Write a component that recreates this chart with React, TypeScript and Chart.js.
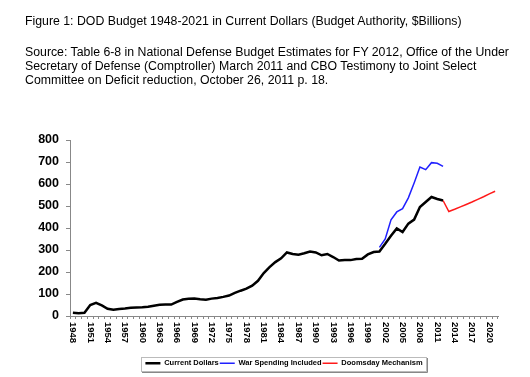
import React, { useEffect, useRef } from "react";
import { Chart, registerables } from "chart.js";

Chart.register(...registerables);

const years: string[] = [];
for (let y = 1948; y <= 2021; y++) years.push(String(y));

const yTicks = [0, 100, 200, 300, 400, 500, 600, 700, 800];

const currentDollars = [
  15, 13, 15, 50, 60, 48, 33, 28, 32, 34, 37, 39, 40, 42, 47, 51, 52, 52, 64, 75,
  78, 79, 76, 74, 79, 82, 87, 93, 105, 115, 124, 138, 160, 195, 222, 245, 262, 289,
  282, 279, 285, 293, 289, 276, 282, 268, 252, 255, 254, 259, 260, 280, 291, 293,
  328, 365, 398, 382, 420, 438, 495, 518, 541, 532, 525,
];
// 2001..2012
const warSpending = [312, 350, 437, 473, 488, 537, 605, 677, 665, 697, 694, 680];
// 2012..2021
const doomsday = [525, 475, 485, 496, 507, 518, 530, 542, 555, 567];

function pad(arr: number[], startYear: number): (number | null)[] {
  return years.map((y) => {
    const i = Number(y) - startYear;
    return i >= 0 && i < arr.length ? arr[i] : null;
  });
}

const FONT = "'Liberation Sans', Arial, sans-serif";

const xLabelPlugin = {
  id: "xLabels",
  afterDraw(chart: any) {
    const ctx = chart.ctx;
    const xs = chart.scales.x;
    ctx.save();
    ctx.font = `bold 9.5px ${FONT}`;
    ctx.fillStyle = "#000";
    ctx.textAlign = "left";
    ctx.textBaseline = "middle";
    years.forEach((lab, i) => {
      if ((Number(lab) - 1948) % 3 !== 0) return;
      const x = xs.getPixelForValue(i);
      ctx.save();
      ctx.translate(x, xs.top + 6);
      ctx.rotate(Math.PI / 2);
      ctx.fillText(lab, 0, 0);
      ctx.restore();
    });
    ctx.restore();
  },
};

const legendBoxPlugin = {
  id: "legendBox",
  afterDraw(chart: any) {
    const lg = chart.legend;
    if (!lg || !lg.legendHitBoxes || !lg.legendHitBoxes.length) return;
    let l = Infinity, t = Infinity, r = -Infinity, b = -Infinity;
    lg.legendHitBoxes.forEach((h: any) => {
      l = Math.min(l, h.left);
      t = Math.min(t, h.top);
      r = Math.max(r, h.left + h.width);
      b = Math.max(b, h.top + h.height);
    });
    const ctx = chart.ctx;
    ctx.save();
    ctx.strokeStyle = "#bbbbbb";
    ctx.lineWidth = 1;
    const L = Math.round(l - 4), T = Math.round(t - 3);
    const W = Math.round(r - l + 8), H = Math.round(b - t + 6);
    ctx.strokeRect(L + 0.5, T + 0.5, W, H);
    ctx.strokeStyle = "#888888";
    ctx.beginPath();
    ctx.moveTo(L + 1, T + H + 1.5);
    ctx.lineTo(L + W + 1.5, T + H + 1.5);
    ctx.lineTo(L + W + 1.5, T + 1);
    ctx.stroke();
    ctx.restore();
  },
};

export default function App() {
  const ref = useRef<HTMLCanvasElement | null>(null);

  useEffect(() => {
    document.body.style.margin = "0";
    const canvas = ref.current;
    if (!canvas) return;
    const chart = new Chart(canvas, {
      type: "line",
      data: {
        labels: years,
        datasets: [
          {
            label: "Current Dollars",
            data: pad(currentDollars, 1948),
            borderColor: "#000000",
            backgroundColor: "#000000",
            borderWidth: 2.5,
            pointRadius: 0,
            tension: 0,
          },
          {
            label: "War Spending Included",
            data: pad(warSpending, 2001),
            borderColor: "#2020ff",
            backgroundColor: "#2020ff",
            borderWidth: 1.5,
            pointRadius: 0,
            tension: 0,
          },
          {
            label: "Doomsday Mechanism",
            data: pad(doomsday, 2012),
            borderColor: "#ff1a1a",
            backgroundColor: "#ff1a1a",
            borderWidth: 1.5,
            pointRadius: 0,
            tension: 0,
          },
        ],
      },
      options: {
        animation: false,
        responsive: false,
        maintainAspectRatio: false,
        layout: { padding: { top: 140, left: 0, right: 32, bottom: 0 } },
        plugins: {
          tooltip: { enabled: false },
          legend: {
            position: "bottom",
            fullSize: false,
            labels: {
              usePointStyle: true,
              pointStyle: "line",
              pointStyleWidth: 15,
              boxHeight: 7,
              padding: 1,
              color: "#000",
              font: { family: FONT, size: 7.5, weight: "bold" },
            },
          },
        },
        scales: {
          x: {
            type: "category",
            offset: true,
            border: { display: true, color: "#888888", width: 1 },
            grid: {
              display: true,
              offset: true,
              drawOnChartArea: false,
              drawTicks: true,
              tickLength: 3,
              color: "#888888",
            },
            ticks: { display: false, autoSkip: false },
            afterFit(scale: any) {
              scale.height = 42.5;
            },
          },
          y: {
            min: 0,
            max: 800,
            border: { display: true, color: "#888888", width: 1 },
            grid: {
              display: true,
              drawOnChartArea: false,
              drawTicks: true,
              tickLength: 4,
              color: "#888888",
            },
            afterBuildTicks(scale: any) {
              scale.ticks = yTicks.map((v) => ({ value: v }));
            },
            ticks: {
              color: "#000",
              padding: 7,
              font: { family: FONT, size: 12.5, weight: "bold" },
            },
            afterFit(scale: any) {
              scale.width = 70;
            },
          },
        },
      },
      plugins: [xLabelPlugin, legendBoxPlugin],
    });
    return () => chart.destroy();
  }, []);

  const textStyle: React.CSSProperties = {
    position: "absolute",
    left: 25,
    fontFamily: FONT,
    fontSize: 12.3,
    color: "#000",
    lineHeight: "14px",
    whiteSpace: "nowrap",
  };

  return (
    <div style={{ position: "relative", width: 530, height: 377, background: "#fff" }}>
      <canvas ref={ref} width={530} height={377} style={{ position: "absolute", left: 0, top: 0 }} />
      <div style={{ ...textStyle, top: 14 }}>
        Figure 1: DOD Budget 1948-2021 in Current Dollars (Budget Authority, $Billions)
      </div>
      <div style={{ ...textStyle, top: 45 }}>
        Source: Table 6-8 in National Defense Budget Estimates for FY 2012, Office of the Under
        <br />
        Secretary of Defense (Comptroller) March 2011 and CBO Testimony to Joint Select
        <br />
        Committee on Deficit reduction, October 26, 2011 p. 18.
      </div>
    </div>
  );
}
